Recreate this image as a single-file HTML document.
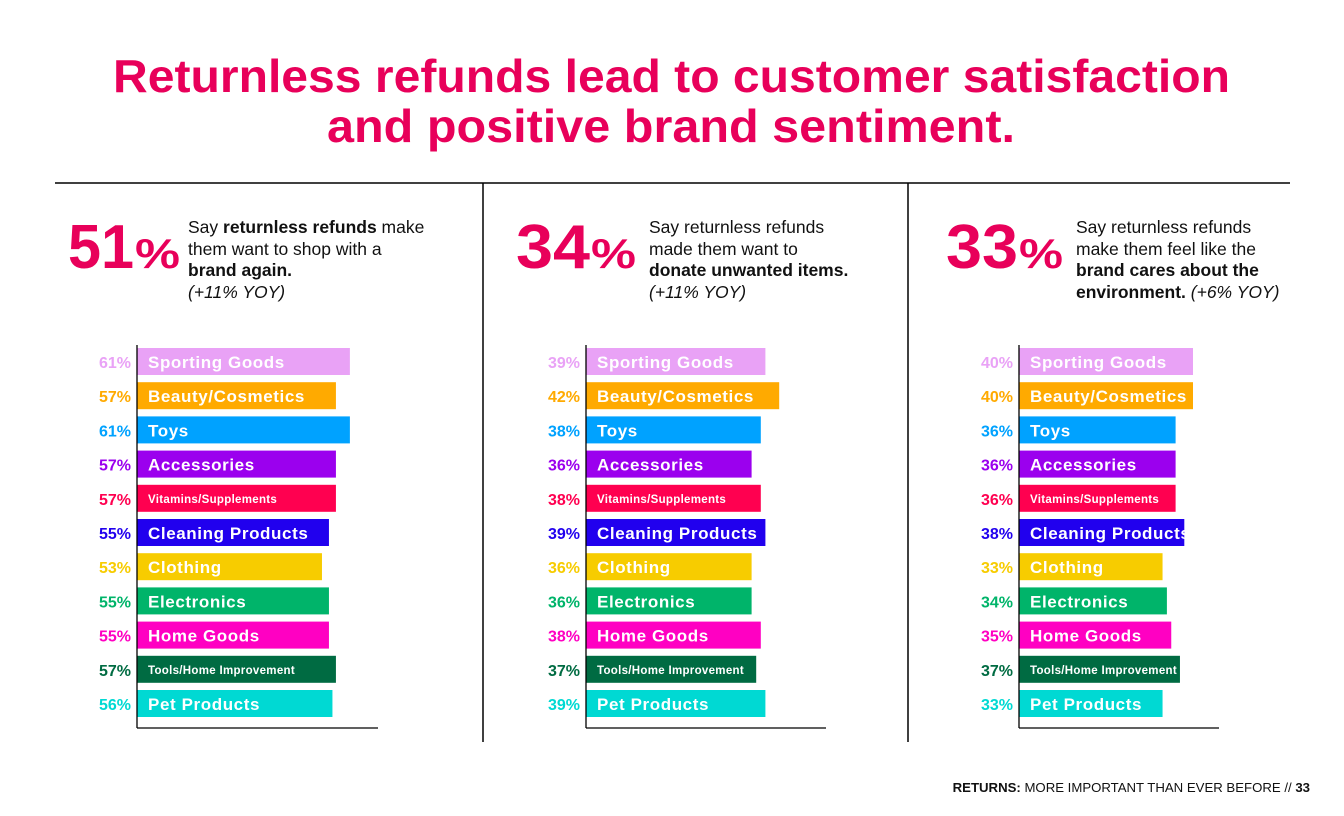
<!DOCTYPE html>
<html><head><meta charset="utf-8"><style>
html,body{margin:0;padding:0;background:#fff;}
svg{display:block;font-family:"Liberation Sans",Arial,sans-serif;}
</style></head><body>
<svg id="chart" width="1344" height="816" viewBox="0 0 1344 816" xmlns="http://www.w3.org/2000/svg">
<text x="113" y="92" font-size="46" font-weight="900" fill="#e8005a" textLength="1117" lengthAdjust="spacingAndGlyphs">Returnless refunds lead to customer satisfaction</text>
<text x="327" y="142" font-size="46" font-weight="900" fill="#e8005a" textLength="688" lengthAdjust="spacingAndGlyphs">and positive brand sentiment.</text>
<line x1="55" y1="183" x2="1290" y2="183" stroke="#000" stroke-width="1.5"/>
<line x1="483" y1="183" x2="483" y2="742" stroke="#000" stroke-width="1.5"/>
<line x1="908" y1="183" x2="908" y2="742" stroke="#000" stroke-width="1.5"/>

<g>
<text x="68" y="268" font-size="62" font-weight="900" fill="#e8005a" textLength="66" lengthAdjust="spacingAndGlyphs">51</text>
<text x="135" y="268" font-size="42" font-weight="900" fill="#e8005a" textLength="45" lengthAdjust="spacingAndGlyphs">%</text>
<text font-size="17.5" fill="#111">
<tspan x="188" y="233">Say <tspan font-weight="bold">returnless refunds</tspan> make</tspan>
<tspan x="188" y="255">them want to shop with a</tspan>
<tspan x="188" y="276" font-weight="bold">brand again.</tspan>
<tspan x="188" y="298" font-style="italic">(+11% YOY)</tspan></text>
</g>
<g>
<text x="516" y="268" font-size="62" font-weight="900" fill="#e8005a" textLength="74" lengthAdjust="spacingAndGlyphs">34</text>
<text x="591" y="268" font-size="42" font-weight="900" fill="#e8005a" textLength="45" lengthAdjust="spacingAndGlyphs">%</text>
<text font-size="17.5" fill="#111">
<tspan x="649" y="233">Say returnless refunds</tspan>
<tspan x="649" y="255">made them want to</tspan>
<tspan x="649" y="276" font-weight="bold">donate unwanted items.</tspan>
<tspan x="649" y="298" font-style="italic">(+11% YOY)</tspan></text>
</g>
<g>
<text x="946" y="268" font-size="62" font-weight="900" fill="#e8005a" textLength="72" lengthAdjust="spacingAndGlyphs">33</text>
<text x="1019" y="268" font-size="42" font-weight="900" fill="#e8005a" textLength="44" lengthAdjust="spacingAndGlyphs">%</text>
<text font-size="17.5" fill="#111">
<tspan x="1076" y="233">Say returnless refunds</tspan>
<tspan x="1076" y="255">make them feel like the</tspan>
<tspan x="1076" y="276" font-weight="bold">brand cares about the</tspan>
<tspan x="1076" y="298"><tspan font-weight="bold">environment.</tspan> <tspan font-style="italic">(+6% YOY)</tspan></tspan></text>
</g>

<g id="bars"></g>

<text x="1310" y="792" font-size="13.2" fill="#111" text-anchor="end"><tspan font-weight="bold">RETURNS:</tspan> MORE IMPORTANT THAN EVER BEFORE // <tspan font-weight="bold">33</tspan></text>
</svg>
<script>
const categories = ["Sporting Goods","Beauty/Cosmetics","Toys","Accessories","Vitamins/Supplements","Cleaning Products","Clothing","Electronics","Home Goods","Tools/Home Improvement","Pet Products"];
const shopAgainValues = [61,57,61,57,57,55,53,55,55,57,56];
const donateValues = [39,42,38,36,38,39,36,36,38,37,39];
const environmentValues = [40,40,36,36,36,38,33,34,35,37,33];
const colors = ["#e9a2f6","#ffaa00","#00a2ff","#9b00ee","#ff0050","#2100ee","#f7cc00","#00b46a","#ff00c2","#006b42","#00d9d3"];

const NS = "http://www.w3.org/2000/svg";
const root = document.getElementById('bars');
const panels = [
  {name:'shop-again', values:shopAgainValues, x0:137, k:3.49, axisLen:241},
  {name:'donate', values:donateValues, x0:586, k:4.6, axisLen:240},
  {name:'environment', values:environmentValues, x0:1019, k:4.35, axisLen:200}
];
function yScale(i){ return 362 + i*34.2; }
function mk(tag, attrs){ const e=document.createElementNS(NS,tag); for(const a in attrs) e.setAttribute(a,attrs[a]); return e; }

panels.forEach(p=>{
  const g = mk('g',{});
  
  
  root.appendChild(g);
  p.values.forEach((v,i)=>{
    const cy = yScale(i);
    const r = mk('rect',{x:p.x0, y:cy-14, width:v*p.k, height:27, fill:colors[i]});
    
    
    g.appendChild(r);
    const small = categories[i].length > 18;
    const t = mk('text',{x:p.x0+11, y:cy+(small?4:6), 'font-size':small?11.5:17, 'font-weight':'900', fill:'#fff', 'letter-spacing':small?0.3:0.6});
    
    
    t.textContent = categories[i];
    g.appendChild(t);
    const vl = mk('text',{x:p.x0-6, y:cy+6, 'font-size':16, 'font-weight':'900', fill:colors[i], 'text-anchor':'end'});
    
    
    vl.textContent = v + '%';
    g.appendChild(vl);
  });
  const ya = mk('line',{x1:p.x0, y1:345, x2:p.x0, y2:728, stroke:'#000', 'stroke-width':1.3});
  
  
  g.appendChild(ya);
  const xa = mk('line',{x1:p.x0, y1:728, x2:p.x0+p.axisLen, y2:728, stroke:'#000', 'stroke-width':1.3});
  
  
  g.appendChild(xa);
});
</script>
</body></html>
